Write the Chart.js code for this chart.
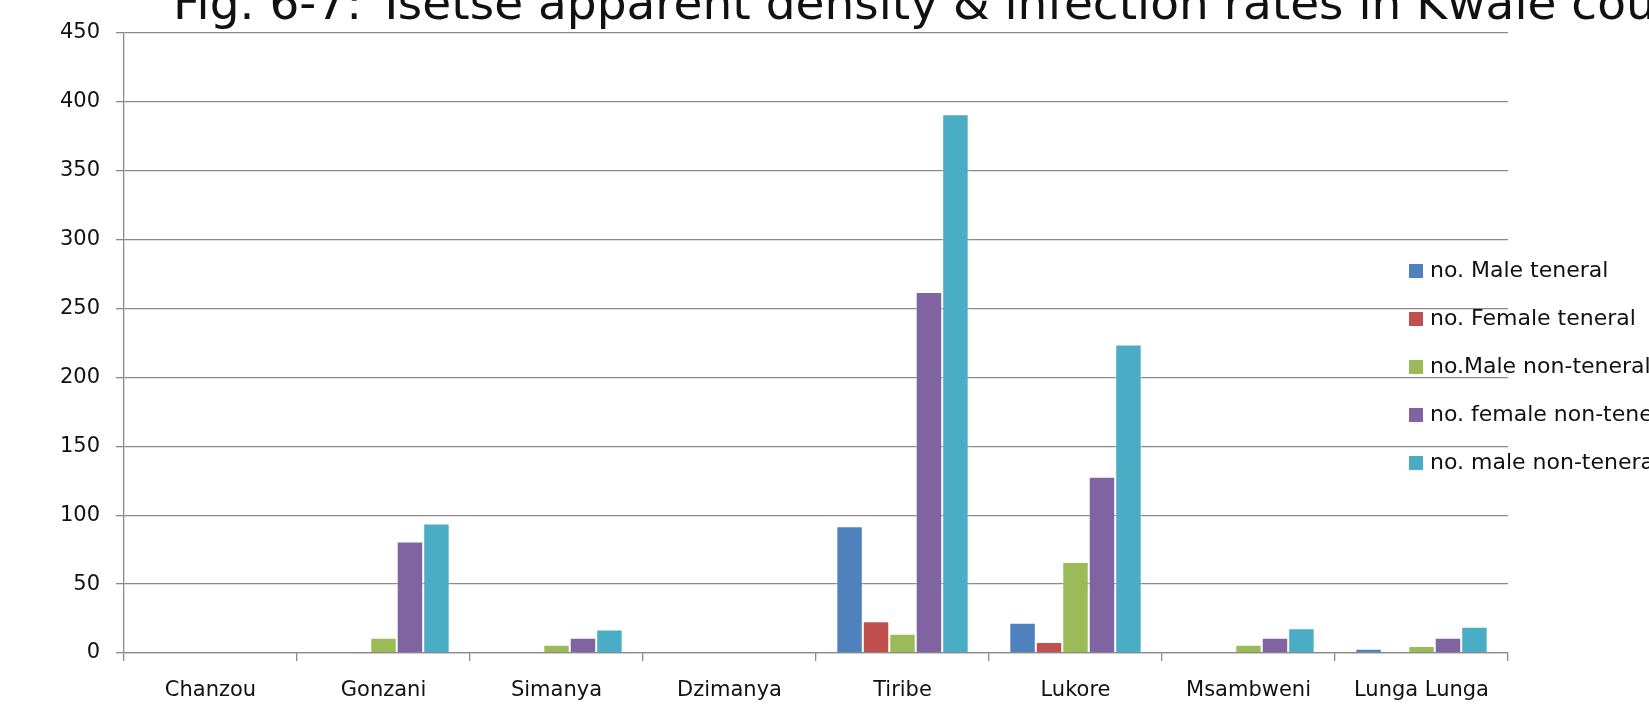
<!DOCTYPE html>
<html>
<head>
<meta charset="utf-8">
<title>Tsetse apparent density</title>
<script src="https://cdn.jsdelivr.net/npm/chart.js@4.4.1/dist/chart.umd.min.js"></script>
<style>
  html, body { margin: 0; padding: 0; background: #fff; overflow: hidden; }
  #wrap { width: 1649px; height: 707px; }
</style>
</head>
<body>
<div id="wrap"><canvas id="flyChart" width="1649" height="707"></canvas></div>
<script>
const titleText = 'Fig. 6-7: Tsetse apparent density & infection rates in Kwale county';
const sites = ['Chanzou', 'Gonzani', 'Simanya', 'Dzimanya', 'Tiribe', 'Lukore', 'Msambweni', 'Lunga Lunga'];
const seriesNames = ['no. Male teneral', 'no. Female teneral', 'no.Male non-teneral', 'no. female non-teneral', 'no. male non-teneral'];
const maleTeneral = [0, 1, 1, 0, 92, 22, 1, 3];
const femaleTeneral = [0, 1, 0, 0, 23, 8, 0, 0];
const maleNonTeneral = [0, 11, 6, 0, 14, 66, 6, 5];
const femaleNonTeneral = [0, 81, 11, 0, 262, 128, 11, 11];
const maleNonTeneral2 = [0, 94, 17, 0, 391, 224, 18, 19];
const yTicks = [0, 50, 100, 150, 200, 250, 300, 350, 400, 450];

const barColors = ['#4F81BD', '#C0504D', '#9BBB59', '#8064A2', '#4BACC6'];
const allSeries = [maleTeneral, femaleTeneral, maleNonTeneral, femaleNonTeneral, maleNonTeneral2];
const axisGrey = '#8a8a8a';
const font = 'DejaVu Sans';

// title sits partly above the canvas edge, like the cropped figure
const titlePlugin = {
  id: 'figTitle',
  afterDraw(chart) {
    const ctx = chart.ctx;
    ctx.save();
    ctx.fillStyle = '#111';
    ctx.font = '47px "' + font + '"';
    ctx.textBaseline = 'alphabetic';
    ctx.textAlign = 'left';
    ctx.fillText(titleText, 173, 19);
    ctx.restore();
  }
};

// legend drawn over the right part of the plot
const floatLegend = {
  id: 'floatLegend',
  afterDatasetsDraw(chart) {
    const ctx = chart.ctx;
    ctx.save();
    ctx.font = '22px "' + font + '"';
    ctx.textBaseline = 'middle';
    ctx.textAlign = 'left';
    chart.data.datasets.forEach((ds, i) => {
      const cy = 271 + i * 48;
      ctx.fillStyle = ds.backgroundColor;
      ctx.fillRect(1409, cy - 7, 14, 14);
      ctx.fillStyle = '#111';
      ctx.fillText(ds.label, 1430, cy);
    });
    ctx.restore();
  }
};

const datasets = allSeries.map((vals, i) => ({
  label: seriesNames[i],
  data: vals,
  backgroundColor: barColors[i],
  borderColor: 'rgba(255,255,255,0.4)',
  borderWidth: 1,
  categoryPercentage: 0.765,
  barPercentage: 1.0
}));

new Chart(document.getElementById('flyChart'), {
  type: 'bar',
  data: { labels: sites, datasets: datasets },
  options: {
    responsive: false,
    animation: false,
    devicePixelRatio: 1,
    layout: { padding: { left: 0, top: 33, right: 141, bottom: 0 } },
    plugins: {
      legend: { display: false },
      tooltip: { enabled: false }
    },
    scales: {
      x: {
        grid: { display: true, drawOnChartArea: false, drawTicks: true, tickLength: 8, color: axisGrey, lineWidth: 1.3, offset: true },
        border: { display: true, color: axisGrey, width: 1.3 },
        ticks: { color: '#111', font: { family: font, size: 21 }, padding: 17, maxRotation: 0, autoSkip: false },
        afterFit(scale) { scale.height = 54; }
      },
      y: {
        min: 0,
        max: 450,
        afterBuildTicks(scale) { scale.ticks = yTicks.map(v => ({ value: v })); },
        grid: { color: axisGrey, lineWidth: 1.3, tickLength: 8, drawTicks: true },
        border: { display: true, color: axisGrey, width: 1.3 },
        ticks: { color: '#111', font: { family: font, size: 21 }, padding: 16 },
        afterFit(scale) { scale.width = 124; }
      }
    }
  },
  plugins: [titlePlugin, floatLegend]
});
</script>
</body>
</html>
